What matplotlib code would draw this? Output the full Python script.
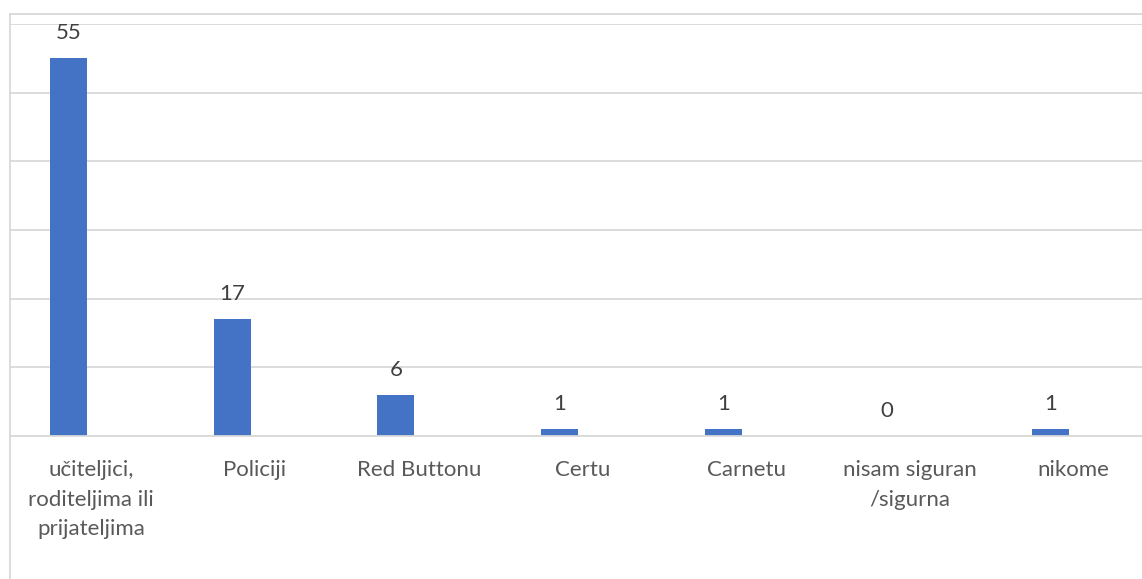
import matplotlib
matplotlib.use("Agg")
import matplotlib.pyplot as plt
from matplotlib.lines import Line2D

categories = ["učiteljici,\nroditeljima ili\nprijateljima", "Policiji", "Red Buttonu",
              "Certu", "Carnetu", "nisam siguran\n/sigurna", "nikome"]
values = [55, 17, 6, 1, 1, 0, 1]

W, H = 1142, 579
fig = plt.figure(figsize=(W / 100, H / 100), dpi=100)
plt.rcParams['font.family'] = ['Lato', 'DejaVu Sans']

y0, y60 = 436, 24
ax = fig.add_axes([10 / W, (H - y0) / H, 1 - 10 / W, (y0 - y60) / H])

bar_color = "#4472C4"
grid_color = "#D9D9D9"
text_color = "#404040"
label_color = "#595959"

x = list(range(len(categories)))
ax.bar(x, values, width=0.226, color=bar_color, zorder=3)
ax.set_ylim(0, 60)
ax.set_xlim(-0.357, 6.558)
ax.set_yticks(range(0, 61, 10))
ax.yaxis.grid(True, color=grid_color, linewidth=1.3, zorder=0)
ax.tick_params(axis='y', left=False, labelleft=False)
for s in ["top", "right", "left"]:
    ax.spines[s].set_visible(False)
ax.spines["bottom"].set_color(grid_color)
ax.spines["bottom"].set_linewidth(1.3)
ax.spines["bottom"].set_zorder(4)

# category labels sit slightly right of the bars (as in the original)
ax.set_xticks([xi + 0.14 for xi in x])
ax.set_xticklabels(categories, fontsize=16, color=label_color, linespacing=1.62)
ax.tick_params(axis='x', length=0, pad=17)

for xi, v in zip(x, values):
    ax.annotate(str(v), (xi, v), xytext=(0, 18), textcoords="offset points",
                ha="center", va="center", fontsize=16, color=text_color)

# chart border (cropped)
fig.add_artist(Line2D([10 / W, 1], [1 - 14 / H, 1 - 14 / H], transform=fig.transFigure,
                      color=grid_color, linewidth=1.3))
fig.add_artist(Line2D([10 / W, 10 / W], [0, 1 - 14 / H], transform=fig.transFigure,
                      color=grid_color, linewidth=1.3))

fig.savefig("out.png", dpi=100, facecolor="white")
